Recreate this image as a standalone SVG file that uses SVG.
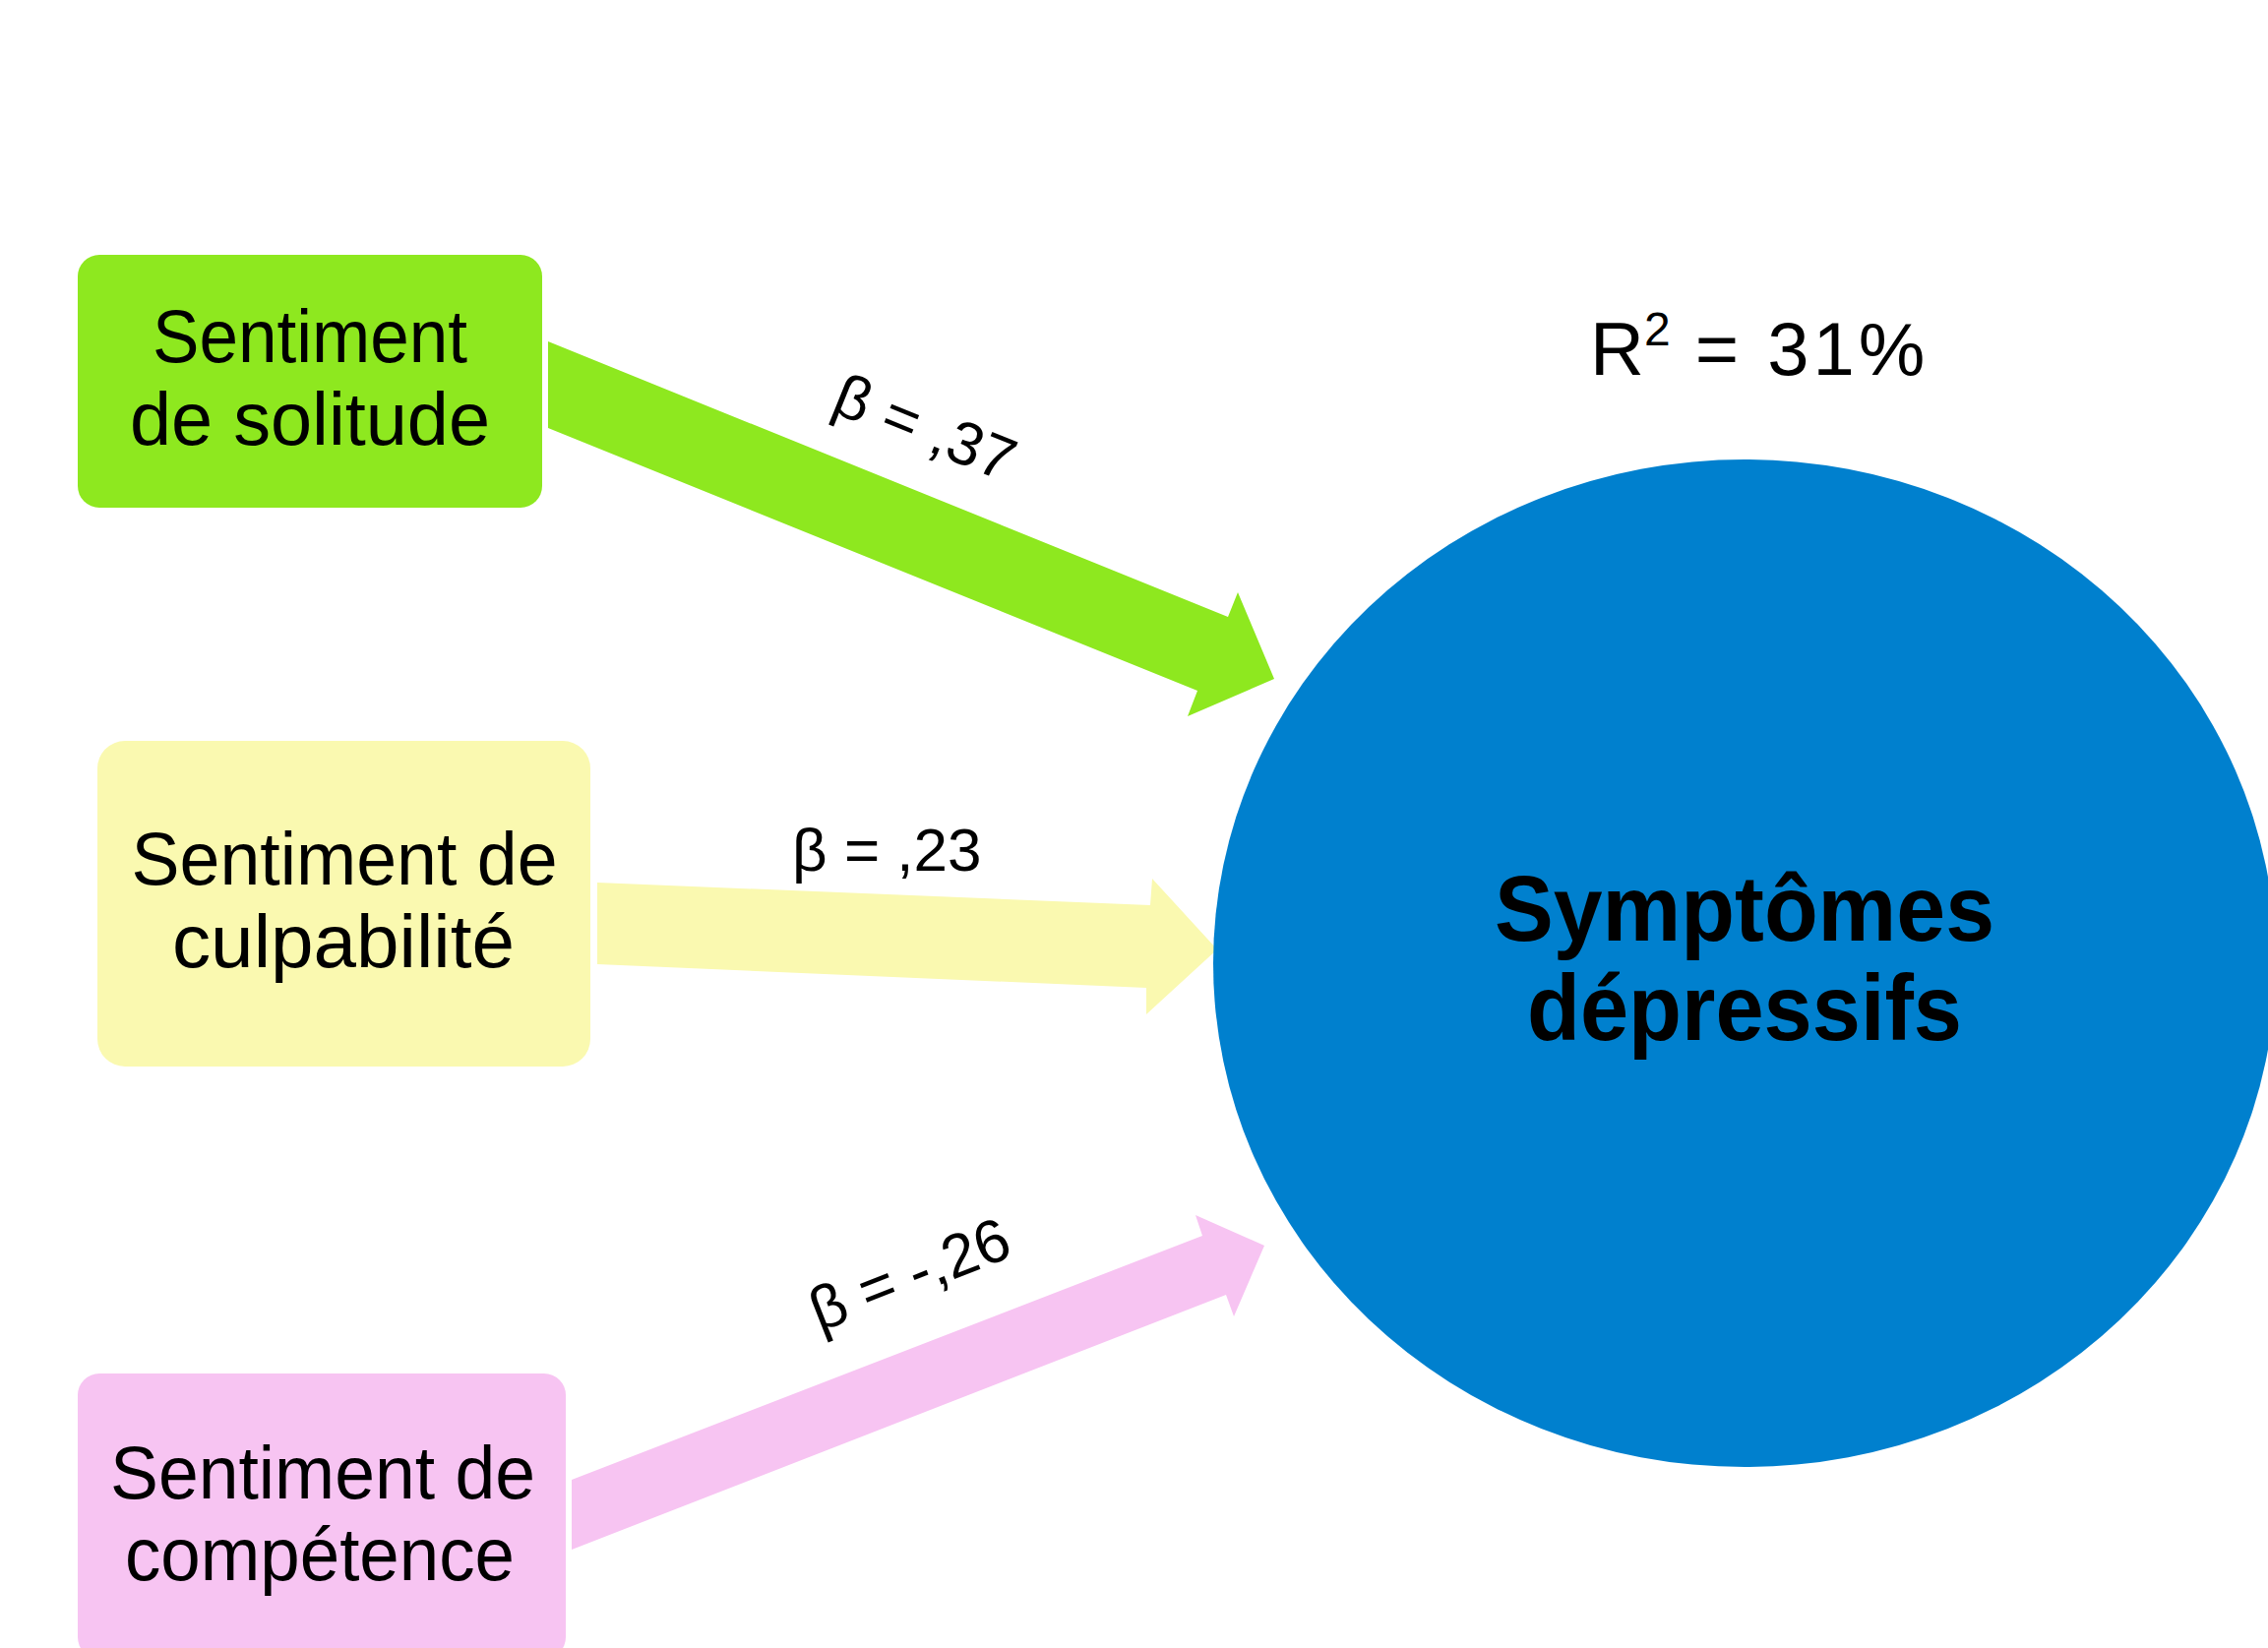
<svg xmlns="http://www.w3.org/2000/svg" width="2305" height="1675" viewBox="0 0 2305 1675">
<style>
.t{font-family:"Liberation Sans",Arial,sans-serif;fill:#000}
.box{font-size:76px}
.lbl{font-size:62px}
.big{font-size:95px;font-weight:bold}
</style>
<rect width="2305" height="1675" fill="#fff"/>
<g id="connectors">
<polygon points="557,347 1248,627 1258,602 1295,690 1207,728 1217,702 557,435" fill="#8EE81F"/>
<polygon points="607,897 1169,920 1171,893 1237,965 1165,1031 1165,1004 607,980" fill="#FAF9B0"/>
<polygon points="581,1504 1222,1256 1215,1235 1285,1266 1254,1338 1246,1316 581,1575" fill="#F7C4F2"/>
<text class="t lbl" x="843" y="418" transform="rotate(22 843 418)">β = ,37</text>
<text class="t lbl" x="805" y="885">β = ,23</text>
<text class="t lbl" x="833" y="1354" transform="rotate(-21.5 833 1354)">β = -,26</text>
</g>
<g id="node-solitude">
<rect x="79" y="259" width="472" height="257" rx="22" fill="#8EE81F"/>
<text class="t box" x="315" y="368" text-anchor="middle" textLength="320" lengthAdjust="spacingAndGlyphs">Sentiment</text>
<text class="t box" x="315" y="452" text-anchor="middle" textLength="366" lengthAdjust="spacingAndGlyphs">de solitude</text>
</g>
<g id="node-culpabilite">
<rect x="99" y="753" width="501" height="331" rx="28" fill="#FAF9B0"/>
<text class="t box" x="350" y="899" text-anchor="middle" textLength="433" lengthAdjust="spacingAndGlyphs">Sentiment de</text>
<text class="t box" x="349" y="983" text-anchor="middle" textLength="348" lengthAdjust="spacingAndGlyphs">culpabilité</text>
</g>
<g id="node-competence">
<rect x="79" y="1396" width="496" height="290" rx="22" fill="#F7C4F2"/>
<text class="t box" x="328" y="1523" text-anchor="middle" textLength="432" lengthAdjust="spacingAndGlyphs">Sentiment de</text>
<text class="t box" x="325" y="1606" text-anchor="middle" textLength="396" lengthAdjust="spacingAndGlyphs">compétence</text>
</g>
<g id="node-symptomes">
<ellipse cx="1773" cy="979" rx="540" ry="512" fill="#0080CE"/>
<text class="t big" x="1773" y="956" text-anchor="middle" textLength="508" lengthAdjust="spacingAndGlyphs">Symptômes</text>
<text class="t big" x="1773" y="1057" text-anchor="middle" textLength="442" lengthAdjust="spacingAndGlyphs">dépressifs</text>
</g>
<g id="r2">
<text class="t" x="1616" y="381" font-size="76">R<tspan font-size="48" dy="-30">2</tspan><tspan dy="30" letter-spacing="4"> = 31%</tspan></text>
</g>
</svg>
